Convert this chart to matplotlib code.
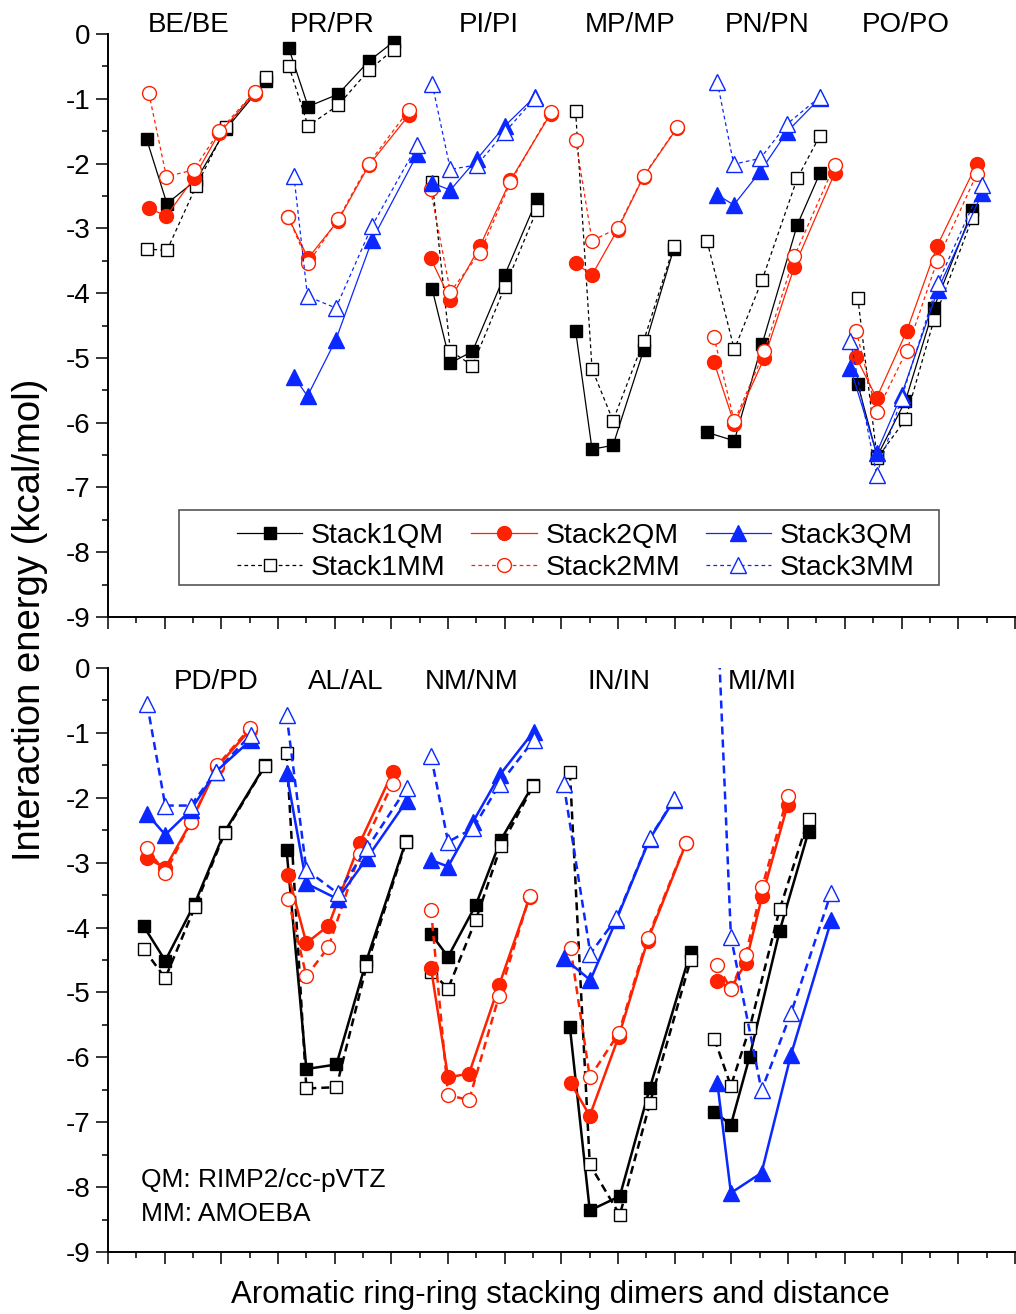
import numpy as np
import matplotlib
matplotlib.use('Agg')
import matplotlib.pyplot as plt
from matplotlib.patches import Rectangle

plt.rcParams['font.family'] = ['Liberation Sans', 'DejaVu Sans']
plt.rcParams['axes.unicode_minus'] = False

# ---------------- top panel ----------------
TOP_LABELS = ['BE/BE', 'PR/PR', 'PI/PI', 'MP/MP', 'PN/PN', 'PO/PO']
TOP_LABEL_X = [1.43, 3.96, 6.72, 9.21, 11.63, 14.07]

top_x1 = [[0.68, 1.04, 1.56, 2.09, 2.79],
          [3.19, 3.53, 4.06, 4.60, 5.04],
          [5.72, 6.04, 6.43, 7.00, 7.57],
          [8.25, 8.54, 8.91, 9.45, 9.98],
          [10.57, 11.05, 11.54, 12.16, 12.56],
          [13.23, 13.57, 14.07, 14.57, 15.25]]
top_qm1 = [[-1.62, -2.62, -2.25, -1.46, -0.72],
           [-0.22, -1.12, -0.93, -0.42, -0.12],
           [-3.94, -5.08, -4.90, -3.72, -2.55],
           [-4.58, -6.41, -6.35, -4.88, -3.32],
           [-6.15, -6.28, -4.79, -2.95, -2.15],
           [-5.41, -6.52, -5.66, -4.23, -2.72]]
top_mm1 = [[-3.32, -3.34, -2.34, -1.43, -0.67],
           [-0.49, -1.42, -1.10, -0.56, -0.24],
           [-2.28, -4.89, -5.12, -3.91, -2.71],
           [-1.19, -5.17, -5.97, -4.74, -3.28],
           [-3.20, -4.87, -3.80, -2.23, -1.57],
           [-4.08, -6.55, -5.95, -4.42, -2.84]]

top_x2 = [[0.72, 1.03, 1.51, 1.96, 2.59],
          [3.18, 3.53, 4.06, 4.60, 5.31],
          [5.69, 6.04, 6.56, 7.10, 7.81],
          [8.25, 8.54, 8.99, 9.45, 10.04],
          [10.69, 11.05, 11.58, 12.11, 12.82],
          [13.20, 13.56, 14.09, 14.63, 15.33]]
top_qm2 = [[-2.69, -2.81, -2.23, -1.53, -0.92],
           [-2.83, -3.46, -2.88, -2.03, -1.25],
           [-3.46, -4.10, -3.28, -2.26, -1.23],
           [-3.54, -3.72, -3.02, -2.20, -1.45],
           [-5.06, -6.02, -5.00, -3.59, -2.15],
           [-4.99, -5.62, -4.59, -3.27, -2.00]]
top_mm2 = [[-0.91, -2.20, -2.10, -1.50, -0.89],
           [-2.82, -3.54, -2.86, -2.00, -1.17],
           [-2.40, -3.98, -3.38, -2.29, -1.20],
           [-1.63, -3.19, -3.00, -2.19, -1.44],
           [-4.67, -5.98, -4.90, -3.43, -2.02],
           [-4.58, -5.84, -4.89, -3.50, -2.16]]

top_x3 = [[],
          [3.28, 3.52, 4.02, 4.66, 5.46],
          [5.72, 6.04, 6.51, 7.00, 7.53],
          [],
          [10.75, 11.04, 11.51, 11.98, 12.56],
          [13.10, 13.56, 14.00, 14.64, 15.42]]
top_qm3 = [[],
           [-5.29, -5.59, -4.72, -3.18, -1.85],
           [-2.30, -2.41, -1.93, -1.42, -0.97],
           [],
           [-2.48, -2.64, -2.12, -1.51, -0.99],
           [-5.16, -6.47, -5.57, -3.95, -2.46]]
top_mm3 = [[],
           [-2.19, -4.05, -4.23, -2.96, -1.71],
           [-0.77, -2.09, -2.02, -1.52, -0.99],
           [],
           [-0.74, -2.01, -1.92, -1.39, -0.97],
           [-4.74, -6.81, -5.62, -3.85, -2.33]]

# ---------------- bottom panel ----------------
BOT_LABELS = ['PD/PD', 'AL/AL', 'NM/NM', 'IN/IN', 'MI/MI']
BOT_LABEL_X = [1.90, 4.20, 6.42, 9.01, 11.55]

bot_x1 = [[0.63, 1.01, 1.53, 2.06, 2.77],
          [3.15, 3.50, 4.03, 4.56, 5.26],
          [5.70, 6.00, 6.49, 6.93, 7.50],
          [8.15, 8.50, 9.03, 9.56, 10.28],
          [10.70, 10.99, 11.32, 11.85, 12.36]]
bot_qm1 = [[-3.98, -4.51, -3.63, -2.52, -1.50],
           [-2.80, -6.18, -6.11, -4.51, -2.66],
           [-4.10, -4.45, -3.65, -2.65, -1.80],
           [-5.54, -8.36, -8.14, -6.47, -4.37],
           [-6.84, -7.04, -5.99, -4.05, -2.52]]
bot_mm1 = [[-4.33, -4.78, -3.69, -2.54, -1.51],
           [-1.31, -6.48, -6.46, -4.60, -2.68],
           [-4.68, -4.94, -3.88, -2.75, -1.82],
           [-1.61, -7.65, -8.43, -6.71, -4.50],
           [-5.72, -6.44, -5.55, -3.72, -2.32]]

bot_x2 = [[0.69, 1.01, 1.46, 1.93, 2.50],
          [3.18, 3.50, 3.89, 4.44, 5.02],
          [5.70, 6.00, 6.37, 6.90, 7.44],
          [8.16, 8.50, 9.01, 9.52, 10.20],
          [10.75, 10.99, 11.25, 11.54, 11.99]]
bot_qm2 = [[-2.93, -3.08, -2.38, -1.52, -0.96],
           [-3.19, -4.24, -3.97, -2.70, -1.61],
           [-4.63, -6.31, -6.25, -4.89, -3.53],
           [-6.39, -6.90, -5.68, -4.20, -2.70],
           [-4.83, -4.93, -4.55, -3.52, -2.11]]
bot_mm2 = [[-2.78, -3.16, -2.38, -1.50, -0.93],
           [-3.56, -4.75, -4.30, -2.86, -1.78],
           [-3.73, -6.58, -6.66, -5.05, -3.51],
           [-4.31, -6.31, -5.63, -4.16, -2.69],
           [-4.58, -4.95, -4.42, -3.38, -1.98]]

bot_x3 = [[0.69, 1.01, 1.46, 1.90, 2.52],
          [3.15, 3.50, 4.05, 4.57, 5.27],
          [5.70, 6.00, 6.44, 6.91, 7.51],
          [8.04, 8.51, 8.97, 9.56, 9.99],
          [10.75, 10.99, 11.53, 12.05, 12.76]]
bot_qm3 = [[-2.25, -2.57, -2.19, -1.60, -1.11],
           [-1.62, -3.32, -3.56, -2.93, -2.05],
           [-2.96, -3.06, -2.37, -1.65, -0.98],
           [-4.47, -4.81, -3.88, -2.63, -2.03],
           [-6.39, -8.09, -7.78, -5.96, -3.89]]
bot_mm3 = [[-0.55, -2.12, -2.12, -1.60, -1.03],
           [-0.72, -3.11, -3.47, -2.78, -1.85],
           [-1.36, -2.68, -2.47, -1.79, -1.11],
           [-1.79, -4.40, -3.86, -2.62, -2.02],
           [0.90, -4.14, -6.51, -5.32, -3.46]]

BLACK, RED, BLUE = '#000000', '#ff2200', '#0a28ff'


def joined(groups):
  out = []
  for g in groups:
    out.extend(g)
    out.append(np.nan)
  return np.array(out, dtype=float)


def draw_series(ax, xs, ys, label, color, marker, filled, lw, dash, ms):
  ax.plot(joined(xs), joined(ys), color=color, lw=lw,
          ls='-' if filled else (0, dash),
          marker=marker, ms=ms, mfc=color if filled else 'white',
          mec=color, mew=1.0, label=label)


def style_axes(ax):
  ax.set_xlim(0, 16.02)
  ax.set_ylim(-9, 0)
  for s in ['top', 'right']:
    ax.spines[s].set_visible(False)
  for s in ['left', 'bottom']:
    ax.spines[s].set_linewidth(1.4)
  ax.set_xticks(np.arange(0, 17))
  ax.set_xticks(np.arange(0.5, 16, 1), minor=True)
  ax.set_yticks(np.arange(-9, 1))
  ax.set_yticks(np.arange(-8.5, 0, 1), minor=True)
  ax.set_yticklabels([str(v) for v in range(-9, 1)])
  ax.tick_params(which='major', direction='out', length=8.5, width=1.1,
                 labelsize=20, pad=4)
  ax.tick_params(which='minor', direction='out', length=4, width=1.1)
  ax.tick_params(axis='x', labelbottom=False)


fig = plt.figure(figsize=(10.16, 13.14), dpi=100)
ax1 = fig.add_axes([108 / 1016, 1 - 617 / 1314, 908 / 1016, 583 / 1314])
ax2 = fig.add_axes([108 / 1016, 1 - 1252 / 1314, 908 / 1016, 584 / 1314])

top_sets = [(top_x1, top_qm1, 'Stack1QM', BLACK, 's', True, 9),
            (top_x1, top_mm1, 'Stack1MM', BLACK, 's', False, 9),
            (top_x2, top_qm2, 'Stack2QM', RED, 'o', True, 10),
            (top_x2, top_mm2, 'Stack2MM', RED, 'o', False, 10),
            (top_x3, top_qm3, 'Stack3QM', BLUE, '^', True, 11),
            (top_x3, top_mm3, 'Stack3MM', BLUE, '^', False, 11)]
for xs, ys, lab, c, m, f, ms in top_sets:
  draw_series(ax1, xs, ys, lab, c, m, f, 0.9, (3, 2.5), ms)

bot_sets = [(bot_x1, bot_qm1, 'Stack1QM', BLACK, 's', True, 9),
            (bot_x1, bot_mm1, 'Stack1MM', BLACK, 's', False, 9),
            (bot_x2, bot_qm2, 'Stack2QM', RED, 'o', True, 10),
            (bot_x2, bot_mm2, 'Stack2MM', RED, 'o', False, 10),
            (bot_x3, bot_qm3, 'Stack3QM', BLUE, '^', True, 11),
            (bot_x3, bot_mm3, 'Stack3MM', BLUE, '^', False, 11)]
for xs, ys, lab, c, m, f, ms in bot_sets:
  draw_series(ax2, xs, ys, lab, c, m, f, 1.8, (3.2, 2.0), ms)

for ax in (ax1, ax2):
  style_axes(ax)

for lab, x in zip(TOP_LABELS, TOP_LABEL_X):
  ax1.text(x, 0.14, lab, ha='center', va='center', fontsize=20)
for lab, x in zip(BOT_LABELS, BOT_LABEL_X):
  ax2.text(x, -0.21, lab, ha='center', va='center', fontsize=20)

# legend with a hand-placed frame
leg = ax1.legend(loc='center', bbox_to_anchor=(0.515, 0.112), ncol=3,
                 frameon=False, fontsize=20.5, handlelength=2.3,
                 handletextpad=0.3, columnspacing=0.9, labelspacing=0.2,
                 borderpad=0, borderaxespad=0)
ax1.add_patch(Rectangle((0.0786, 0.0549), 0.8369, 0.1286,
                        transform=ax1.transAxes, fill=False,
                        edgecolor='#555555', lw=1.2, zorder=5))

ax2.text(0.59, -7.89, 'QM: RIMP2/cc-pVTZ', ha='left', va='center', fontsize=19)
ax2.text(0.59, -8.41, 'MM: AMOEBA', ha='left', va='center', fontsize=19)

fig.text(30 / 1016, 1 - 620 / 1314, 'Interaction energy (kcal/mol)',
         rotation=90, ha='center', va='center', fontsize=27.5)
fig.text(560 / 1016, 1 - 1295 / 1314,
         'Aromatic ring-ring stacking dimers and distance',
         ha='center', va='center', fontsize=22.5)

plt.savefig('out.png', dpi=100)
